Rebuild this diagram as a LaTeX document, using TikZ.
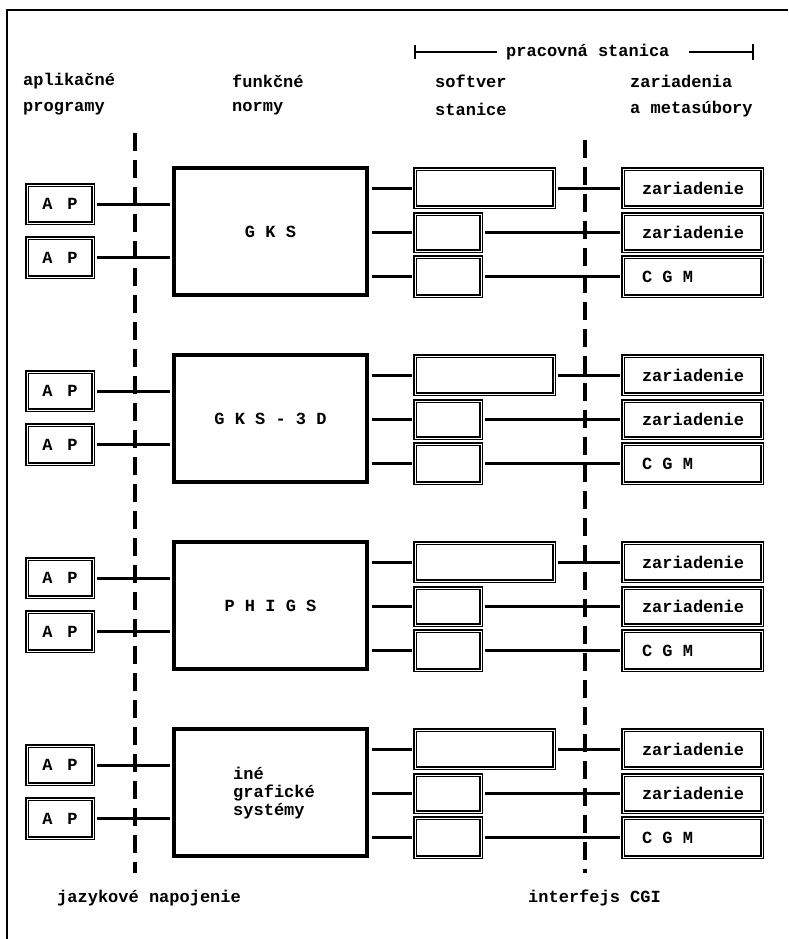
\documentclass[tikz,border=0pt]{standalone}
\usepackage{fontspec}
\setmainfont{Liberation Mono}
\begin{document}
\begin{tikzpicture}[x=1pt,y=-1pt,
  every node/.style={font=\fontsize{17}{20}\selectfont\bfseries, inner sep=0pt},
  boxd/.style={draw=black, line width=1.8pt, double=white, double distance=0.8pt, fill=white, rectangle},
  bigbox/.style={draw=black, line width=3.2pt, fill=white, rectangle},
  conn/.style={line width=3pt},
  sep/.style={line width=4pt, dash pattern=on 18pt off 9pt},
  lbl/.style={anchor=west}
]
\useasboundingbox (0,0) rectangle (788,939);
% frame
\draw[line width=2.4pt] (788,10) -- (7,10) -- (7,939);
% bracket
\node[lbl] (ps) at (506,52) {pracovná stanica};
\coordinate (psl) at (415,52);
\coordinate (psr) at (753,52);
\draw[line width=1.8pt] (psl) -- ([xshift=-9pt]ps.west);
\draw[line width=1.8pt] ([xshift=19pt]ps.east) -- (psr);
\draw[line width=1.8pt] ([yshift=-7pt]psl) -- ([yshift=7pt]psl);
\draw[line width=1.8pt] ([yshift=-8pt]psr) -- ([yshift=8pt]psr);
% headers
\node[lbl] (h1a) at (23,81) {aplikačné};
\node[lbl] (h1b) at (23,109) {programy};
\node[lbl] (h2a) at (232,81) {funkčné};
\node[lbl] (h2b) at (232,109) {normy};
\node[lbl] (h3a) at (435,81) {softver};
\node[lbl] (h3b) at (435,109) {stanice};
\node[lbl] (h4a) at (630,81) {zariadenia};
\node[lbl] (h4b) at (630,109) {a metasúbory};
% separators
\coordinate (s1t) at (135,133);
\coordinate (s1b) at (135,873);
\coordinate (s2t) at (585,140);
\coordinate (s2b) at (585,873);
% groups
\foreach \T/\g/\lab in {168/a/{G K S}, 355/b/{G K S - 3 D}, 542/c/{P H I G S}, 729/d/{}} {
  \node[boxd, minimum width=66pt, minimum height=38pt] (ap1\g) at (60,\T+36) {A\hskip 15pt P};
  \node[boxd, minimum width=66pt, minimum height=39pt] (ap2\g) at (60,\T+89.5) {A\hskip 15pt P};
  \node[bigbox, minimum width=193pt, minimum height=127pt] (sys\g) at (270.5,\T+63.5) {\lab};
  \node[boxd, minimum width=139pt, minimum height=38pt] (sw1\g) at (484.5,\T+20) {};
  \node[boxd, minimum width=66pt, minimum height=37pt] (sw2\g) at (448,\T+64.5) {};
  \node[boxd, minimum width=66pt, minimum height=39pt] (sw3\g) at (448,\T+108.5) {};
  \node[boxd, minimum width=139pt, minimum height=38pt] (dev1\g) at (692.5,\T+20) {\makebox[101pt][l]{zariadenie}};
  \node[boxd, minimum width=139pt, minimum height=37pt] (dev2\g) at (692.5,\T+64.5) {\makebox[101pt][l]{zariadenie}};
  \node[boxd, minimum width=139pt, minimum height=39pt] (dev3\g) at (692.5,\T+108.5) {\makebox[101pt][l]{C G M}};
  \draw[conn, shorten <=3pt, shorten >=2pt] (ap1\g.east) -- (ap1\g.east -| sys\g.west);
  \draw[conn, shorten <=3pt, shorten >=2pt] (ap2\g.east) -- (ap2\g.east -| sys\g.west);
  \draw[conn, shorten <=3pt, shorten >=2pt] (sw1\g.west -| sys\g.east) -- (sw1\g.west);
  \draw[conn, shorten <=3pt, shorten >=2pt] (sw2\g.west -| sys\g.east) -- (sw2\g.west);
  \draw[conn, shorten <=3pt, shorten >=2pt] (sw3\g.west -| sys\g.east) -- (sw3\g.west);
  \draw[conn, shorten <=3pt, shorten >=2pt] (sw1\g.east) -- (dev1\g.west);
  \draw[conn, shorten <=3pt, shorten >=2pt] (sw2\g.east) -- (dev2\g.west);
  \draw[conn, shorten <=3pt, shorten >=2pt] (sw3\g.east) -- (dev3\g.west);
}
\node[anchor=north west, align=left, font=\fontsize{17}{18}\selectfont\bfseries] (ine) at (233,767) {iné\\grafické\\systémy};
\draw[sep] (s1t) -- (s1b);
\draw[sep] (s2t) -- (s2b);
% bottom labels
\node[lbl] (jn) at (57,898) {jazykové napojenie};
\node[lbl] (cgi) at (528,898) {interfejs CGI};
\end{tikzpicture}
\end{document}
